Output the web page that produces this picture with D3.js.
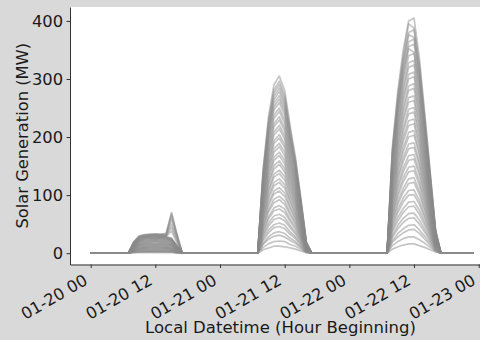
<!DOCTYPE html>
<html><head><meta charset="utf-8">
<script src="https://cdn.jsdelivr.net/npm/d3@7"></script>
<style>
html,body{margin:0;padding:0;background:#d9d9d9;}
svg{display:block;font-family:"DejaVu Sans",sans-serif;}
</style></head>
<body><svg id="chart" width="480" height="340"></svg>
<script>
// ---- data ----
const totalHours = 72; // hourly points 01-20 00 .. 01-22 23
const xTickHours = [0, 12, 24, 36, 48, 60, 72];
const xTickLabels = ["01-20 00","01-20 12","01-21 00","01-21 12","01-22 00","01-22 12","01-23 00"];
const yTicks = [0, 100, 200, 300, 400];
const xTitle = "Local Datetime (Hour Beginning)";
const yTitle = "Solar Generation (MW)";

// daylight hours with non-zero generation (all other hours are 0)
const day1Hours = [8,9,10,11,12,13,14,15,16];
const day2Hours = [32,33,34,35,36,37,38,39,40];
const day3Hours = [56,57,58,59,60,61,62,63,64];

// scenario values (MW) for each day, one row per scenario
const day1Scenarios = [
[20,30,32,33,33,33,34,70,33],[19,29,31,32,33,32,33,68,32],[19,28,31,32,32,32,32,64,30],
[18,28,30,31,32,31,31,58,28],[18,27,30,31,31,31,30,50,25],[17,27,29,30,31,30,30,44,22],
[17,26,29,30,30,30,29,38,18],[16,26,28,29,30,29,28,26,13],[16,25,28,29,29,29,28,25,13],
[16,25,27,28,29,28,27,24,12],[15,24,27,28,28,28,27,24,12],[15,23,26,27,27,27,26,23,12],
[14,23,26,26,27,26,25,23,11],[14,22,25,26,26,26,25,22,11],[13,21,24,25,25,25,24,21,11],
[13,21,23,24,25,24,23,21,10],[12,20,22,23,24,23,22,20,10],[12,19,21,22,23,22,21,19,10],
[11,18,20,21,22,21,20,18,9],[11,17,19,20,21,20,19,17,9],[10,16,18,19,20,19,18,16,8],
[10,15,17,18,19,18,17,15,8],[9,14,16,17,17,17,16,14,7],[9,14,15,16,16,16,15,14,7],
[8,13,14,15,15,15,14,13,6],[8,12,13,14,14,14,13,12,6],[7,11,12,13,13,13,12,11,6],
[7,10,11,12,12,12,11,10,5],[6,9,10,11,11,11,10,9,5],[6,8,9,10,10,10,9,8,4],
[5,8,9,9,9,9,9,8,4],[5,7,8,8,8,8,8,7,3],[4,6,7,7,7,7,7,6,3],
[4,5,6,6,6,6,6,5,3],[3,5,5,5,5,5,5,5,2],[3,4,4,4,4,4,4,4,2],
[2,3,3,3,3,3,3,3,1],[2,2,3,3,3,3,3,2,1],[1,2,2,2,2,2,2,2,1],
[1,1,1,1,1,1,1,1,0]
];
const day2Scenarios = [
[145,235,290,305,280,220,165,95,20],[141,228,281,296,272,213,160,92,19],[138,223,276,290,266,209,157,90,19],
[135,219,270,284,260,205,153,88,19],[132,214,264,278,255,200,150,86,18],[129,209,258,271,249,196,147,85,18],
[126,204,252,265,244,191,144,83,17],[123,200,247,259,238,187,140,81,17],[119,193,238,250,230,180,135,78,16],
[116,188,232,244,224,176,132,76,16],[112,181,223,235,216,169,127,73,15],[109,176,218,229,210,165,124,71,15],
[104,169,209,220,202,158,119,68,14],[102,165,203,214,196,154,116,67,14],[97,157,194,204,188,147,111,64,13],
[94,153,189,198,182,143,107,62,13],[90,146,180,189,174,136,102,59,12],[87,141,174,183,168,132,99,57,12],
[83,134,165,174,160,125,94,54,11],[80,129,160,168,154,121,91,52,11],[75,122,151,159,146,114,86,49,10],
[73,118,145,153,140,110,83,48,10],[68,110,136,143,132,103,78,45,9],[65,106,131,137,126,99,74,43,9],
[61,99,122,128,118,92,69,40,8],[58,94,116,122,112,88,66,38,8],[54,87,107,113,104,81,61,35,7],
[51,82,102,107,98,77,58,33,7],[46,75,93,98,90,70,53,30,6],[44,71,87,92,84,66,50,29,6],
[39,63,78,82,76,59,45,26,5],[36,59,73,76,70,55,41,24,5],[32,52,64,67,62,48,36,21,4],
[29,47,58,61,56,44,33,19,4],[25,40,49,52,48,37,28,16,3],[22,35,44,46,42,33,25,14,3],
[17,28,35,37,34,26,20,11,2],[15,24,29,31,28,22,17,10,2],[10,16,20,21,20,15,12,7,1],
[6,9,12,12,11,9,7,4,1]
];
const day3Scenarios = [
[185,280,350,400,405,335,240,140,40],[179,272,340,395,388,325,233,136,39],[176,266,333,380,385,318,228,133,38],
[172,260,326,376,372,312,223,130,37],[168,255,319,364,369,305,218,127,36],[165,249,312,356,360,298,214,125,36],
[161,244,305,352,346,291,209,122,35],[157,238,298,340,344,285,204,119,34],[152,230,287,328,332,275,197,115,33],
[148,224,280,320,324,268,192,112,32],[142,216,270,308,312,258,185,108,31],[139,210,263,300,304,251,180,105,30],
[133,202,252,288,292,241,173,101,29],[130,196,245,280,284,235,168,98,28],[124,188,235,268,271,224,161,94,27],
[120,182,228,260,263,218,156,91,26],[115,174,217,248,251,208,149,87,25],[111,168,210,240,243,201,144,84,24],
[105,160,200,228,231,191,137,80,23],[102,154,193,220,223,184,132,77,22],[96,146,182,208,211,174,125,73,21],
[93,140,175,200,203,168,120,70,20],[87,132,165,188,190,157,113,66,19],[83,126,158,180,182,151,108,63,18],
[78,118,147,168,170,141,101,59,17],[74,112,140,160,162,134,96,56,16],[68,104,130,148,150,124,89,52,15],
[65,98,123,140,142,117,84,49,14],[59,90,112,128,130,107,77,45,13],[56,84,105,120,122,101,72,42,12],
[50,76,95,108,109,90,65,38,11],[46,70,88,100,101,84,60,35,10],[41,62,77,88,89,74,53,31,9],
[37,56,70,80,81,67,48,28,8],[31,48,60,68,69,57,41,24,7],[28,42,53,60,61,50,36,21,6],
[22,34,42,48,49,40,29,17,5],[19,28,35,40,41,34,24,14,4],[13,20,25,28,28,23,17,10,3],
[7,11,14,16,16,13,10,6,2]
];

// ---- assemble hourly series per scenario (0 outside listed hours) ----
const scenarios = day1Scenarios.map((d1, k) => {
  const vals = new Array(totalHours).fill(0);
  day1Hours.forEach((h, i) => vals[h] = d1[i]);
  day2Hours.forEach((h, i) => vals[h] = day2Scenarios[k][i]);
  day3Hours.forEach((h, i) => vals[h] = day3Scenarios[k][i]);
  return vals.map((v, h) => ({h, v}));
});

// ---- layout ----
const W = 480, H = 340;
const plot = {left: 70, right: 494, top: 7, bottom: 264.5};
const svg = d3.select("#chart");

const x = d3.scaleLinear().domain([-3.84, 74.84]).range([plot.left, plot.right]);
const y = d3.scaleLinear().domain([-19.5, 424]).range([plot.bottom, plot.top]);

svg.append("rect").attr("width", W).attr("height", H).attr("fill", "#d9d9d9");
svg.append("rect").attr("x", plot.left).attr("y", plot.top)
  .attr("width", plot.right - plot.left).attr("height", plot.bottom - plot.top)
  .attr("fill", "#ffffff");

svg.append("clipPath").attr("id", "clip").append("rect")
  .attr("x", plot.left).attr("y", plot.top)
  .attr("width", plot.right - plot.left).attr("height", plot.bottom - plot.top);

const line = d3.line().x(d => x(d.h)).y(d => y(d.v));
svg.append("g").attr("clip-path", "url(#clip)")
  .selectAll("path").data(scenarios).join("path")
  .attr("d", line)
  .attr("fill", "none")
  .attr("stroke", "#8c8c8c")
  .attr("stroke-opacity", 0.5)
  .attr("stroke-width", 1.7)
  .attr("stroke-linejoin", "round");

// axes
const xAxis = d3.axisBottom(x).tickValues(xTickHours)
  .tickFormat((d, i) => xTickLabels[i]).tickSize(3.5).tickSizeOuter(0).tickPadding(3.5);
const gx = svg.append("g").attr("transform", `translate(0,${plot.bottom})`).call(xAxis);
gx.select(".domain").attr("stroke", "#333").attr("stroke-width", 1);
gx.selectAll(".tick line").attr("stroke", "#333");
gx.selectAll(".tick text")
  .attr("x", 0).attr("y", 0).attr("dy", 0)
  .attr("text-anchor", "end")
  .attr("transform", "translate(-2.5,19) rotate(-30)")
  .attr("font-size", 16.3).attr("fill", "#1a1a1a")
  .attr("font-family", "DejaVu Sans, sans-serif");

const yAxis = d3.axisLeft(y).tickValues(yTicks).tickSize(3.5).tickSizeOuter(0).tickPadding(3.5);
const gy = svg.append("g").attr("transform", `translate(${plot.left},0)`).call(yAxis);
gy.select(".domain").attr("stroke", "#333").attr("stroke-width", 1);
gy.selectAll(".tick line").attr("stroke", "#333");
gy.selectAll(".tick text").attr("font-size", 16.3).attr("fill", "#1a1a1a")
  .attr("font-family", "DejaVu Sans, sans-serif");

svg.append("text").attr("x", 280.5).attr("y", 333)
  .attr("text-anchor", "middle").attr("font-size", 16.5).attr("fill", "#1a1a1a")
  .text(xTitle);
svg.append("text").attr("transform", "translate(28,135.75) rotate(-90)")
  .attr("text-anchor", "middle").attr("font-size", 16.3).attr("fill", "#1a1a1a")
  .text(yTitle);
</script></body></html>
